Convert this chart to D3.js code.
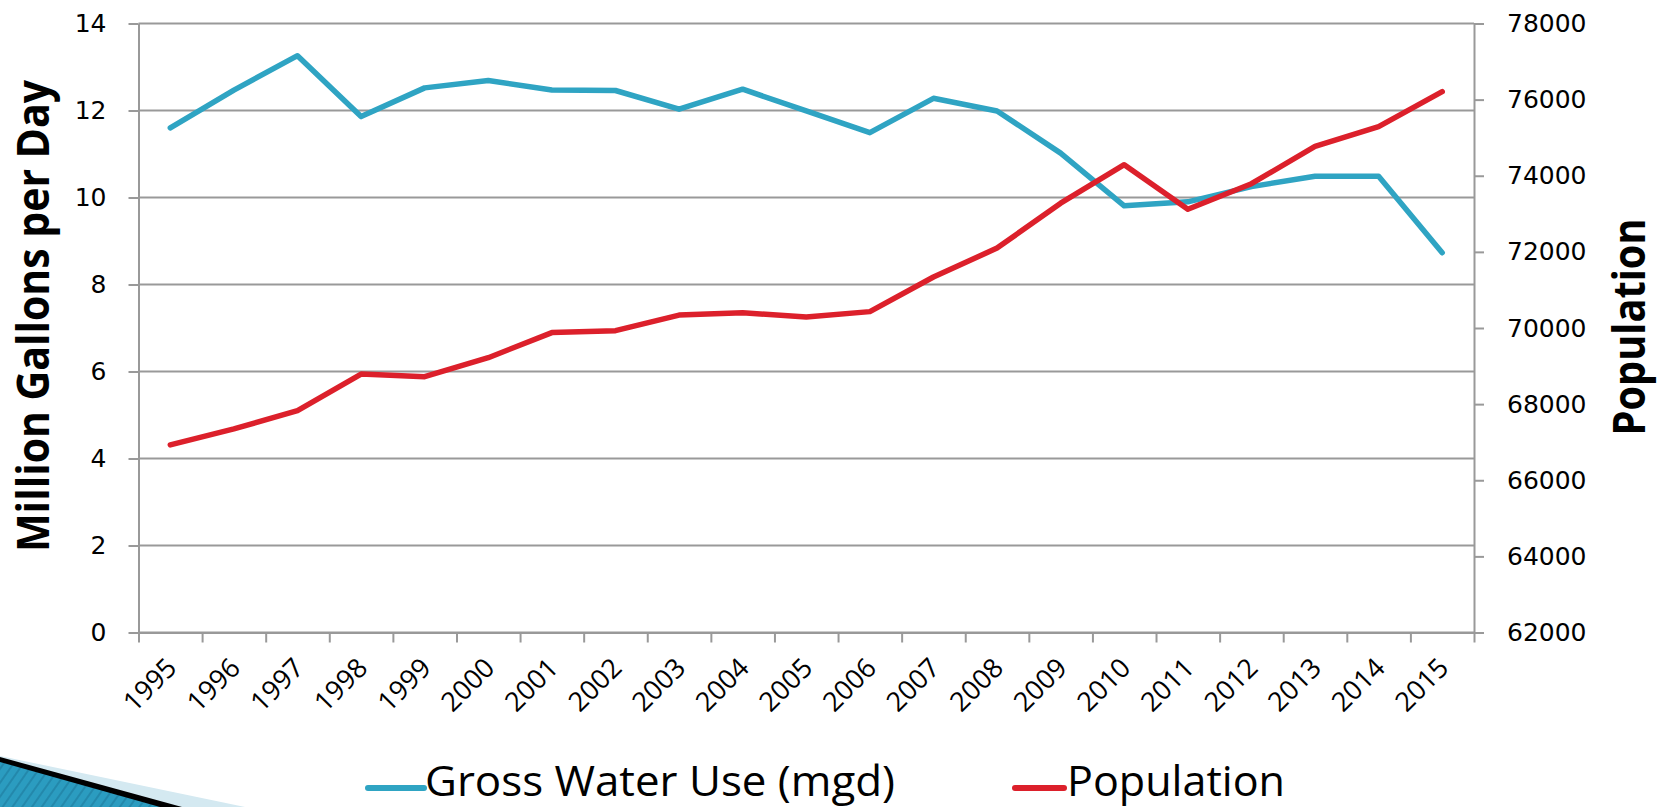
<!DOCTYPE html>
<html>
<head>
<meta charset="utf-8">
<script src="https://cdn.jsdelivr.net/npm/d3@7"></script>
<style>
  body { margin: 0; background: #fff; }
  svg { display: block; }
</style>
</head>
<body>
<div id="chart"></div>
<script>
const WIDTH = 1665;
const HEIGHT = 807;

// values
const years = ["1995", "1996", "1997", "1998", "1999", "2000", "2001", "2002", "2003", "2004",
               "2005", "2006", "2007", "2008", "2009", "2010", "2011", "2012", "2013", "2014", "2015"];
const waterUse = [11.60, 12.47, 13.26, 11.86, 12.52, 12.69, 12.47, 12.46, 12.03, 12.49,
                  11.99, 11.49, 12.28, 11.99, 11.02, 9.81, 9.90, 10.25, 10.49, 10.49, 8.73];
const population = [66930, 67350, 67830, 68790, 68720, 69220, 69880, 69930, 70340, 70400,
                    70290, 70430, 71340, 72100, 73280, 74290, 73120, 73790, 74770, 75290, 76210];
const leftTicks = [0, 2, 4, 6, 8, 10, 12, 14];
const rightTicks = [62000, 64000, 66000, 68000, 70000, 72000, 74000, 76000, 78000];
const seriesNames = ["Gross Water Use (mgd)", "Population"];

const BLUE = "#2fa4c3";
const RED = "#dc202b";
const GREY = "#999999";

const plotLeft = 138.5, plotRight = 1474, plotTop = 23.5, plotBottom = 632.5;

const svg = d3.select("#chart")
    .append("svg")
        .attr("width", WIDTH)
        .attr("height", HEIGHT);

const x = d3.scaleBand().domain(years).range([plotLeft, plotRight]);
const xEdges = d3.scaleLinear().domain([0, years.length]).range([plotLeft, plotRight]);
const yL = d3.scaleLinear().domain([0, 14]).range([plotBottom, plotTop]);
const yR = d3.scaleLinear().domain([62000, 78000]).range([plotBottom, plotTop]);

// gridlines
svg.append("g")
    .selectAll("line")
    .data(leftTicks)
    .enter()
    .append("line")
        .attr("x1", plotLeft)
        .attr("x2", plotRight)
        .attr("y1", d => yL(d))
        .attr("y2", d => yL(d))
        .attr("stroke", GREY)
        .attr("stroke-width", 2);

function styleAxis(g) {
    g.selectAll("path, line").attr("stroke", GREY).attr("stroke-width", 2);
    g.selectAll("text").attr("fill", "#000");
}

// left axis
svg.append("g")
    .attr("transform", `translate(${plotLeft},0)`)
    .call(d3.axisLeft(yL).tickValues(leftTicks).tickSize(10).tickSizeOuter(0).tickPadding(22))
    .call(styleAxis)
    .selectAll("text")
        .style("font-family", "DejaVu Sans, Verdana, sans-serif")
        .style("font-size", "25px");

// right axis
svg.append("g")
    .attr("transform", `translate(${plotRight},0)`)
    .call(d3.axisRight(yR).tickValues(rightTicks).tickSize(10).tickSizeOuter(0).tickPadding(23).tickFormat(d3.format("d")))
    .call(styleAxis)
    .selectAll("text")
        .style("font-family", "DejaVu Sans, Verdana, sans-serif")
        .style("font-size", "25px");

// bottom axis: ticks between categories
svg.append("g")
    .attr("transform", `translate(0,${plotBottom})`)
    .call(d3.axisBottom(xEdges).tickValues(d3.range(years.length + 1)).tickSize(10).tickSizeOuter(0).tickFormat(""))
    .call(styleAxis);

// category labels
svg.append("g")
    .attr("transform", `translate(0,${plotBottom})`)
    .call(d3.axisBottom(x).tickSize(0).tickPadding(0))
    .call(g => g.select(".domain").remove())
    .selectAll("text")
        .style("font-family", "Open Sans, sans-serif")
        .style("font-size", "27px")
        .attr("fill", "#000")
        .attr("text-anchor", "end")
        .attr("dy", 0)
        .attr("transform", "translate(8,37) rotate(-45)");

// lines
const lineL = d3.line()
    .x((d, i) => x(years[i]) + x.bandwidth() / 2)
    .y(d => yL(d));
const lineR = d3.line()
    .x((d, i) => x(years[i]) + x.bandwidth() / 2)
    .y(d => yR(d));

svg.append("path")
    .datum(waterUse)
    .attr("d", lineL)
    .attr("fill", "none")
    .attr("stroke", BLUE)
    .attr("stroke-width", 5.5)
    .attr("stroke-linecap", "round")
    .attr("stroke-linejoin", "round");

svg.append("path")
    .datum(population)
    .attr("d", lineR)
    .attr("fill", "none")
    .attr("stroke", RED)
    .attr("stroke-width", 5.5)
    .attr("stroke-linecap", "round")
    .attr("stroke-linejoin", "round");

// axis titles
svg.append("text")
    .attr("transform", "translate(49,316) rotate(-90)")
    .attr("text-anchor", "middle")
    .attr("textLength", 472)
    .attr("lengthAdjust", "spacingAndGlyphs")
    .style("font-family", "Open Sans, sans-serif")
    .style("font-weight", "bold")
    .style("font-size", "45px")
    .text("Million Gallons per Day");

svg.append("text")
    .attr("transform", "translate(1645,327) rotate(-90)")
    .attr("text-anchor", "middle")
    .attr("textLength", 217)
    .attr("lengthAdjust", "spacingAndGlyphs")
    .style("font-family", "Open Sans, sans-serif")
    .style("font-weight", "bold")
    .style("font-size", "45px")
    .text("Population");

// legend
const legendItems = [
    { name: seriesNames[0], color: BLUE, x1: 368, x2: 424, tx: 425, len: 470 },
    { name: seriesNames[1], color: RED, x1: 1015, x2: 1064, tx: 1067, len: 218 }
];
const legend = svg.append("g");
legend.selectAll("line")
    .data(legendItems)
    .enter()
    .append("line")
        .attr("x1", d => d.x1)
        .attr("x2", d => d.x2)
        .attr("y1", 788)
        .attr("y2", 788)
        .attr("stroke", d => d.color)
        .attr("stroke-width", 6)
        .attr("stroke-linecap", "round");
legend.selectAll("text")
    .data(legendItems)
    .enter()
    .append("text")
        .attr("x", d => d.tx)
        .attr("y", 796)
        .attr("textLength", d => d.len)
        .attr("lengthAdjust", "spacingAndGlyphs")
        .style("font-family", "Open Sans, sans-serif")
        .style("font-size", "42px")
        .attr("fill", "#000")
        .text(d => d.name);

// slide decoration, bottom-left corner
const defs = svg.append("defs");
const pat = defs.append("pattern")
    .attr("id", "stripes")
    .attr("width", 8)
    .attr("height", 8)
    .attr("patternUnits", "userSpaceOnUse")
    .attr("patternTransform", "rotate(35)");
pat.append("rect").attr("width", 8).attr("height", 8).attr("fill", "#2b9cc0");
pat.append("rect").attr("width", 2).attr("height", 8).attr("fill", "#2388ab");

const deco = svg.append("g");
deco.append("polygon").attr("points", "0,756 245,807 0,807").attr("fill", "#d4e9f1");
deco.append("polygon").attr("points", "0,757 182,807 0,807").attr("fill", "#000");
deco.append("polygon").attr("points", "0,762 160,807 0,807").attr("fill", "url(#stripes)");
</script>
</body>
</html>
